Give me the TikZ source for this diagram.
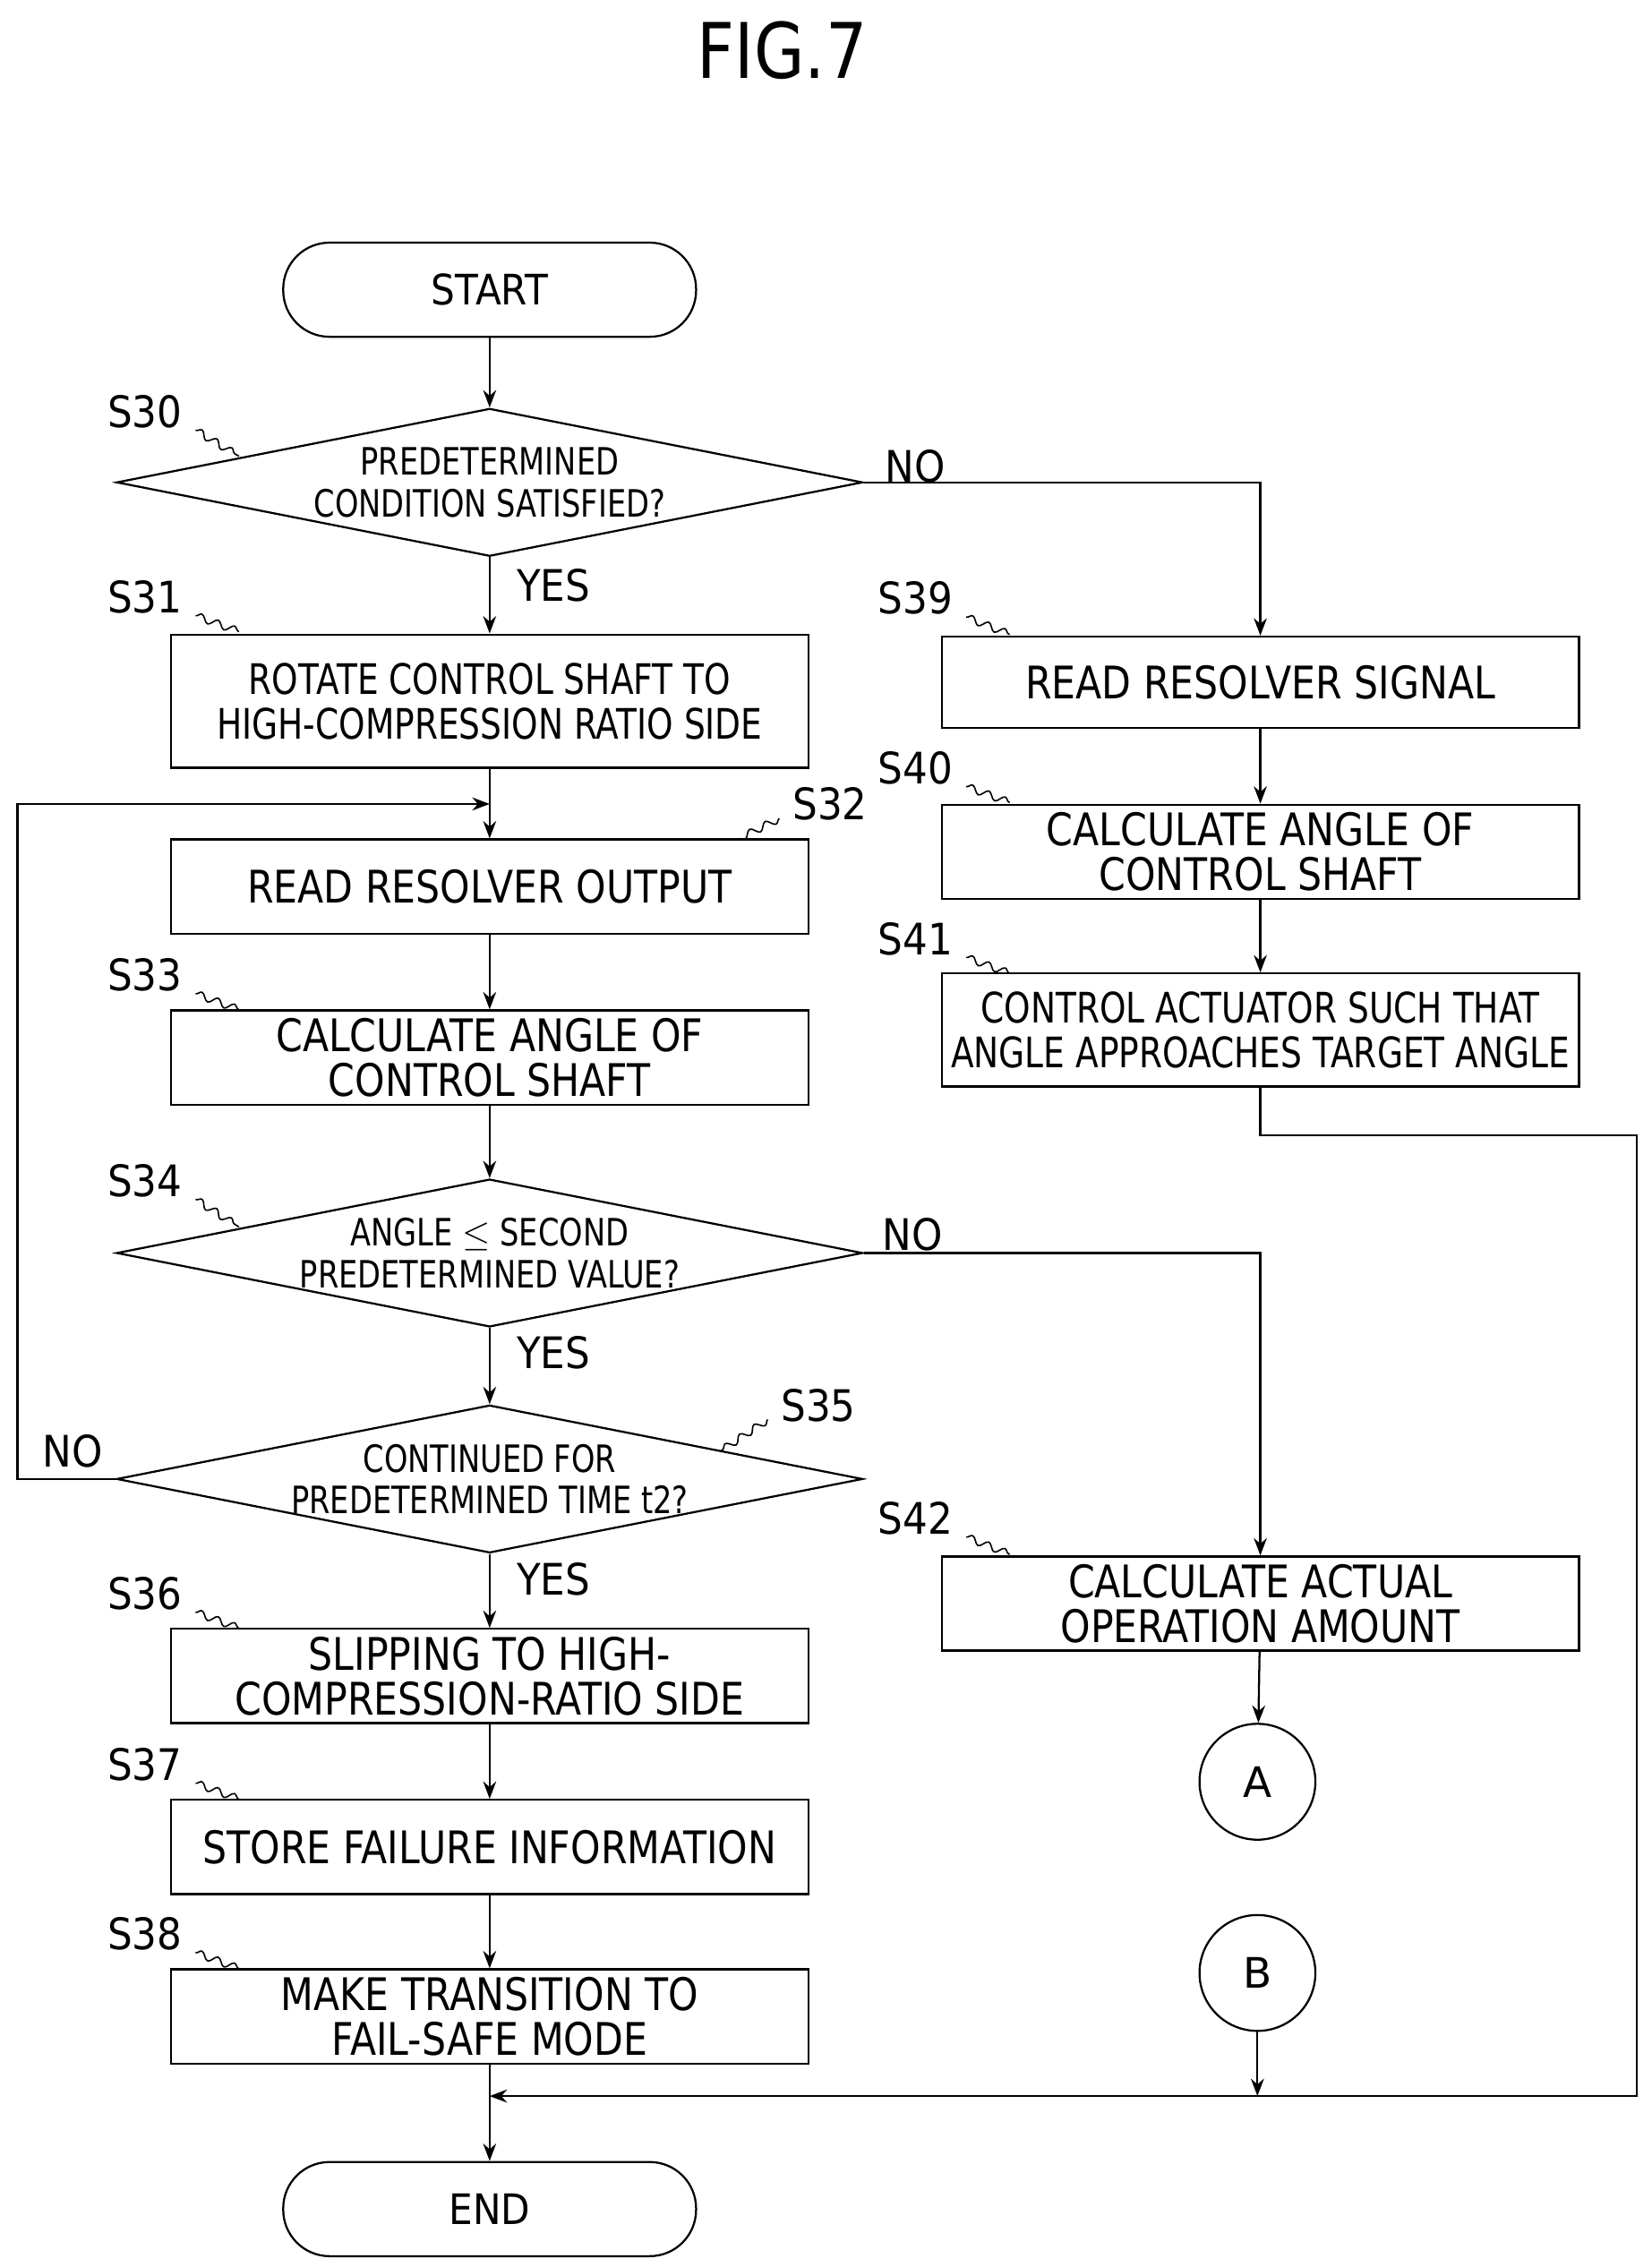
\documentclass[tikz,border=0pt]{standalone}
\usepackage{fontspec}
\setmainfont{DejaVu Sans}
\usetikzlibrary{shapes.geometric,arrows.meta,calc,decorations.pathmorphing}
\begin{document}
\begin{tikzpicture}[x=1pt,y=-1pt,line width=1.4pt,
 box/.style={draw,minimum width=440,inner sep=0,font=\fontsize{31}{31}\selectfont\addfontfeature{FakeStretch=0.85},align=center},
 narrow/.style={font=\fontsize{29}{31}\selectfont\addfontfeature{FakeStretch=0.8}},
 term/.style={draw,rounded corners=32,minimum width=285,minimum height=65,inner sep=0,font=\fontsize{29}{29}\selectfont\addfontfeature{FakeStretch=0.9}},
 dia/.style={draw,diamond,aspect=5.05,minimum width=515,minimum height=102,inner sep=0},
 dtext/.style={inner sep=0,font=\fontsize{26}{29}\selectfont\addfontfeature{FakeStretch=0.8},align=center},
 circ/.style={draw,circle,minimum size=80,inner sep=0,font=\fontsize{29}{29}\selectfont},
 lab/.style={font=\fontsize{30}{30}\selectfont\addfontfeature{FakeStretch=0.9}},
 sq/.style={line width=1pt,decorate,decoration={snake,amplitude=2.5,segment length=12}},
 arr/.style={-{Stealth[length=12,width=9]}}]
\useasboundingbox (0,0) rectangle (1140,1565);
\node[font=\fontsize{53}{55}\selectfont\addfontfeature{FakeStretch=0.85}] (title) at (540,35) {FIG.7};
\node[term] (start) at (338,200) {START};
\node[dia] (s30) at (338,333) {};
\node[dtext] (t30) at (s30) {PREDETERMINED\\CONDITION SATISFIED?};
\node[box,narrow,minimum height=92] (s31) at (338,484) {ROTATE CONTROL SHAFT TO\\HIGH-COMPRESSION RATIO SIDE};
\node[box,minimum height=65] (s32) at (338,612) {READ RESOLVER OUTPUT};
\node[box,minimum height=65] (s33) at (338,730) {CALCULATE ANGLE OF\\CONTROL SHAFT};
\node[dia] (s34) at (338,865) {};
\node[dtext] (t34) at (s34) {ANGLE $\leq$ SECOND\\PREDETERMINED VALUE?};
\node[dia] (s35) at (338,1021) {};
\node[dtext] (t35) at (s35) {CONTINUED FOR\\PREDETERMINED TIME t2?};
\node[box,minimum height=65] (s36) at (338,1157) {SLIPPING TO HIGH-\\COMPRESSION-RATIO SIDE};
\node[box,minimum height=65] (s37) at (338,1275) {STORE FAILURE INFORMATION};
\node[box,minimum height=65] (s38) at (338,1392) {MAKE TRANSITION TO\\FAIL-SAFE MODE};
\node[term] (end) at (338,1525) {END};
\node[box,minimum height=63] (s39) at (870,471) {READ RESOLVER SIGNAL};
\node[box,minimum height=65] (s40) at (870,588) {CALCULATE ANGLE OF\\CONTROL SHAFT};
\node[box,narrow,minimum height=78] (s41) at (870,711) {CONTROL ACTUATOR SUCH THAT\\ANGLE APPROACHES TARGET ANGLE};
\node[box,minimum height=65] (s42) at (870,1107) {CALCULATE ACTUAL\\OPERATION AMOUNT};
\node[circ] (A) at (868,1230) {A};
\node[circ] (B) at (868,1362) {B};
\coordinate (loop) at (338,555);
\coordinate (join) at (338,1447);
\coordinate (joinB) at (868,1447);
\draw[arr] (start) -- (s30);
\draw[arr] (s30) -- (s31);
\draw (s31) -- (loop);
\draw[arr] (loop) -- (s32);
\draw[arr] (s32) -- (s33);
\draw[arr] (s33) -- (s34);
\draw[arr] (s34) -- (s35);
\draw[arr] (s35) -- (s36);
\draw[arr] (s36) -- (s37);
\draw[arr] (s37) -- (s38);
\draw (s38) -- (join);
\draw[arr] (join) -- (end);
\draw[arr] (s30.east) -| (s39.north);
\draw[arr] (s39) -- (s40);
\draw[arr] (s40) -- (s41);
\draw[arr] (s34.east) -| (s42.north);
\draw[arr] (s42) -- (A);
\draw[arr] (B) -- (joinB);
\draw[arr] (s41.south) -- ++(0,33) -| (1130,1447) -- (join);
\draw[arr] (s35.west) -- (12,1021) |- (loop);
\node[lab] at (632,322) {NO};
\node[lab] at (382,404) {YES};
\node[lab] at (630,852) {NO};
\node[lab] at (382,934) {YES};
\node[lab] at (50,1002) {NO};
\node[lab] at (382,1090) {YES};
\foreach \t/\x/\y/\sx/\sy/\ex/\ey in {S30/100/284/135/297/165/315, S31/100/412/135/425/165/436, S33/100/673/135/686/165/697, S34/100/815/135/828/165/847, S36/100/1100/135/1113/165/1124, S37/100/1218/135/1231/165/1242, S38/100/1335/135/1348/165/1359, S39/632/413/667/426/697/438, S40/632/530/667/543/697/554, S41/632/648/667/661/697/672, S42/632/1048/667/1061/697/1073, S32/573/555/538/565/508/580, S35/565/970/530/980/497/1002}{
 \node[lab] (l\t) at (\x,\y) {\t};
 \draw[sq] (\sx,\sy) -- (\ex,\ey);
}
\end{tikzpicture}
\end{document}
